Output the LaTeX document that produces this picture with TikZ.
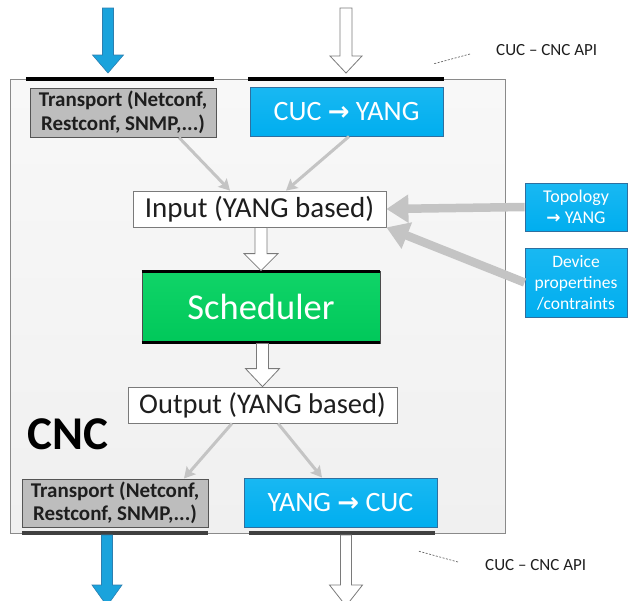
\documentclass[tikz,border=0pt]{standalone}
\usepackage{fontspec}
\setmainfont{Carlito}
\newfontfamily\symfont{DejaVu Sans}
\usetikzlibrary{arrows.meta,calc}

\definecolor{cncfill}{HTML}{F8F8F8}
\definecolor{cncfillb}{HTML}{F0F0F0}
\definecolor{cncline}{HTML}{8A8A8A}
\definecolor{skyblue}{HTML}{00AEEF}
\definecolor{skybluet}{HTML}{19B8F2}
\definecolor{skyline}{HTML}{2F6F9F}
\definecolor{transgray}{HTML}{BDBDBD}
\definecolor{transline}{HTML}{555555}
\definecolor{schedgreen}{HTML}{00C85A}
\definecolor{schedgreent}{HTML}{10D468}
\definecolor{flowgray}{HTML}{C4C4C4}
\definecolor{arrowblue}{HTML}{1AA3DC}
\definecolor{arrowblueline}{HTML}{2C7FB0}
\definecolor{hollowline}{HTML}{7A7A7A}
\definecolor{textdark}{HTML}{1E1E1E}

% vertical block arrow: style, tail point, tip point, half shaft, half head, head length
\newcommand\downblock[6]{%
  \path[#1] let \p1=#2, \p2=#3 in
    (\x2-#4,\y1) -- (\x2+#4,\y1) -- (\x2+#4,\y2+#6) -- (\x2+#5,\y2+#6)
    -- (\x2,\y2) -- (\x2-#5,\y2+#6) -- (\x2-#4,\y2+#6) -- cycle;}

\begin{document}
\begin{tikzpicture}[x=1pt,y=-1pt,
  cncbox/.style={draw=cncline, line width=0.9pt, top color=cncfill, bottom color=cncfillb},
  transbox/.style={draw=transline, line width=1pt, fill=transgray, text=textdark,
    align=center, font=\fontsize{21}{23.5}\selectfont\bfseries, inner sep=0pt},
  bluebox/.style={draw=skyline, line width=0.9pt, top color=skybluet, bottom color=skyblue,
    text=white, align=center, inner sep=0pt},
  yangbox/.style={draw=hollowline, line width=0.8pt, fill=white, text=textdark,
    inner sep=0pt},
  schedbox/.style={draw=black!70, line width=0.8pt, top color=schedgreent, bottom color=schedgreen,
    text=white, font=\fontsize{36.5}{40}\selectfont, inner sep=0pt},
  schedbar/.style={line width=3.5pt, black},
  apibar/.style={line width=3.5pt, black},
  apibarlow/.style={line width=3.5pt, black!75},
  apinote/.style={text=textdark, font=\fontsize{17}{20}\selectfont, inner sep=0pt},
  apidash/.style={draw=black!60, line width=0.7pt, dash pattern=on 2pt off 1.5pt},
  flow/.style={draw=flowgray, line width=3pt, -{Stealth[length=11pt,width=12pt,inset=2pt]}},
  fatflow/.style={draw=flowgray, line width=8.5pt, -{Triangle[length=22pt,width=27pt]}},
  hollow/.style={fill=white, draw=hollowline, line width=0.8pt, line join=miter},
  bluearrow/.style={fill=arrowblue, draw=arrowblueline, line width=0.6pt, line join=miter}
]
\useasboundingbox (0,0) rectangle (628,600);
\clip (0,0) rectangle (628,600);

% CNC container
\node[cncbox, minimum width=495pt, minimum height=454pt] (cnc) at (257.5,306) {};
\node[font=\fontsize{47}{50}\selectfont\bfseries, text=black, inner sep=0pt] (cnclabel) at (68,434) {CNC};

% interface bars on the container border
\draw[apibar] (26,79) -- (214,79);
\draw[apibar] (248,79) -- (444,79);
\draw[apibarlow] (22,533) -- (208,533);
\draw[apibarlow] (249,533) -- (435,533);

% blocks
\node[transbox, minimum width=186pt, minimum height=49pt] (tin) at (123,112.5)
  {Transport (Netconf,\\Restconf, SNMP,...)};
\node[bluebox, minimum width=193pt, minimum height=49pt, font=\fontsize{28}{30}\selectfont] (cucyang) at (346.5,111.5)
  {CUC {\symfont\fontsize{26}{28}\selectfont\bfseries →} YANG};
\node[yangbox, minimum width=253pt, minimum height=36pt, font=\fontsize{29}{31}\selectfont] (inp) at (259.5,209) {Input (YANG based)};
\node[schedbox, minimum width=238pt, minimum height=72pt] (sched) at (261,307) {Scheduler};
\draw[schedbar] ([yshift=-1pt]sched.north west) -- ([yshift=-1pt]sched.north east);
\draw[schedbar] ([yshift=1pt]sched.south west) -- ([yshift=1pt]sched.south east);
\node[yangbox, minimum width=269pt, minimum height=36pt, font=\fontsize{28.5}{31}\selectfont] (outp) at (262.5,405) {Output (YANG based)};
\node[transbox, minimum width=186pt, minimum height=48pt] (tout) at (115,503)
  {Transport (Netconf,\\Restconf, SNMP,...)};
\node[bluebox, minimum width=193pt, minimum height=49pt, font=\fontsize{28}{30}\selectfont] (yangcuc) at (340.5,502.5)
  {YANG {\symfont\fontsize{26}{28}\selectfont\bfseries →} CUC};
\node[bluebox, minimum width=102pt, minimum height=48pt, font=\fontsize{18}{21}\selectfont] (topo) at (576,207)
  {Topology\\{\symfont\fontsize{17}{19}\selectfont\bfseries →} YANG};
\node[bluebox, minimum width=102pt, minimum height=69pt, font=\fontsize{17.5}{21}\selectfont] (dev) at (576,282.5)
  {Device\\propertines\\/contraints};

% API notes
\node[apinote, anchor=west] (apitop) at (496,50) {CUC – CNC API};
\node[apinote, anchor=west] (apibot) at (485,565) {CUC – CNC API};
\draw[apidash] ([xshift=-26pt,yshift=-4pt]apitop.west) -- ([xshift=-63pt,yshift=-14pt]apitop.west);
\draw[apidash] ([xshift=-27pt,yshift=3pt]apibot.west) -- ([xshift=-67pt,yshift=14pt]apibot.west);

% external in/out block arrows
\coordinate (inA) at (108,8);   \coordinate (inAtip) at (108,73);
\coordinate (inB) at (346,8);   \coordinate (inBtip) at (346,73);
\coordinate (outA) at (107,535); \coordinate (outAtip) at (107,606);
\coordinate (outB) at (346,535); \coordinate (outBtip) at (346,606);
\downblock{bluearrow}{(inA)}{(inAtip)}{5.5pt}{15.5pt}{18pt}
\downblock{hollow}{(inB)}{(inBtip)}{6pt}{16pt}{17pt}
\downblock{bluearrow}{(outA)}{(outAtip)}{5.5pt}{15pt}{21pt}
\downblock{hollow}{(outB)}{(outBtip)}{5.5pt}{16.5pt}{21pt}

% internal hollow block arrows
\downblock{hollow}{(inp.south)}{([xshift=1.5pt]sched.north -| inp.south)}{6pt}{17pt}{17pt}
\downblock{hollow}{(sched.south)}{(outp.north)}{6pt}{17pt}{18pt}

% grey flows
\draw[flow] ([xshift=56pt]tin.south) -- ([xshift=-29.5pt]inp.north);
\draw[flow] ([xshift=2.5pt]cucyang.south) -- ([xshift=26.5pt]inp.north);
\draw[flow] ([xshift=-30.5pt]outp.south) -- ([xshift=69pt]tout.north);
\draw[flow] ([xshift=15.5pt]outp.south) -- ([xshift=-18.5pt]yangcuc.north);
\draw[fatflow] (topo.west) -- (inp.east);
\draw[fatflow] (dev.west) -- (inp.south east);

\end{tikzpicture}
\end{document}
